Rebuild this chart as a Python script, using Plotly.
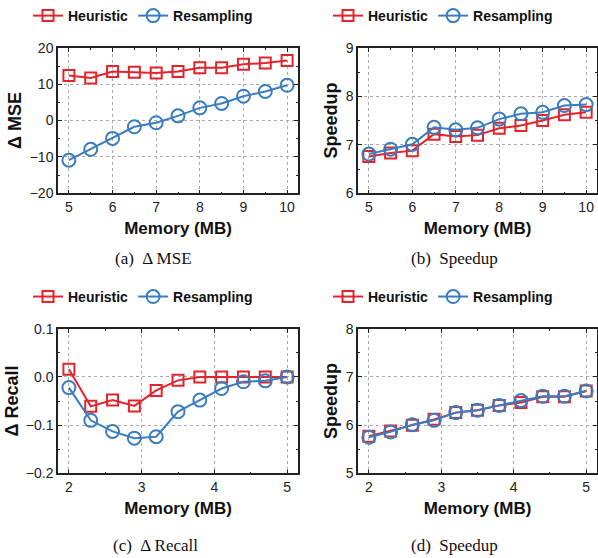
import plotly.graph_objects as go

# ---- data ----
mem_a = [5, 5.5, 6, 6.5, 7, 7.5, 8, 8.5, 9, 9.5, 10]
mse_heur = [12.4, 11.7, 13.5, 13.3, 13.1, 13.5, 14.5, 14.5, 15.5, 15.8, 16.5]
mse_resamp = [-10.9, -7.9, -4.9, -1.7, -0.6, 1.3, 3.5, 4.7, 6.7, 8.0, 9.7]
spd_a_heur = [6.76, 6.83, 6.88, 7.22, 7.17, 7.20, 7.34, 7.40, 7.50, 7.62, 7.67]
spd_a_resamp = [6.81, 6.91, 7.01, 7.36, 7.31, 7.35, 7.53, 7.64, 7.67, 7.81, 7.83]

mem_c = [2, 2.3, 2.6, 2.9, 3.2, 3.5, 3.8, 4.1, 4.4, 4.7, 5]
rec_heur = [0.016, -0.061, -0.048, -0.060, -0.028, -0.007, 0.0, 0.0, 0.0, 0.0, 0.0]
rec_resamp = [-0.022, -0.090, -0.113, -0.127, -0.124, -0.072, -0.048, -0.024, -0.010, -0.008, 0.0]
spd_c_heur = [5.77, 5.88, 6.00, 6.12, 6.26, 6.31, 6.41, 6.47, 6.59, 6.59, 6.71]
spd_c_resamp = [5.75, 5.86, 6.01, 6.10, 6.26, 6.31, 6.41, 6.51, 6.60, 6.60, 6.71]

series_names = ["Heuristic", "Resampling"]
captions = ["(a)  Δ MSE", "(b)  Speedup", "(c)  Δ Recall", "(d)  Speedup"]

RED = "#e3242b"
BLUE = "#3a7dbf"
W, H = 598, 558

fig = go.Figure()

panels = [
    (mem_a, mse_heur, mse_resamp, "", "legend"),
    (mem_a, spd_a_heur, spd_a_resamp, "2", "legend2"),
    (mem_c, rec_heur, rec_resamp, "3", "legend3"),
    (mem_c, spd_c_heur, spd_c_resamp, "4", "legend4"),
]

for xs, h, r, ax, lg in panels:
    fig.add_trace(go.Scatter(
        x=xs, y=h, name=series_names[0], mode="lines+markers",
        xaxis="x" + ax, yaxis="y" + ax, legend=lg,
        line=dict(color=RED, width=2),
        marker=dict(symbol="square-open", size=11, color=RED, line=dict(width=2, color=RED)),
    ))
    fig.add_trace(go.Scatter(
        x=xs, y=r, name=series_names[1], mode="lines+markers",
        xaxis="x" + ax, yaxis="y" + ax, legend=lg,
        line=dict(color=BLUE, width=2),
        marker=dict(symbol="circle-open", size=13, color=BLUE, line=dict(width=2, color=BLUE)),
    ))

def px_x(a, b):
    return [a / W, b / W]

def px_y(top, bottom):
    return [1 - bottom / H, 1 - top / H]

tickfont = dict(family="Liberation Sans, Arial", size=14, color="#222")
xtitlefont = dict(family="Liberation Sans, Arial", size=17, color="#111", weight="bold")
ytitlefont = dict(family="Liberation Sans, Arial", size=18, color="#111", weight="bold")

def xax(domain, rng, anchor, minor):
    return dict(
        domain=domain, range=rng, anchor=anchor, dtick=1, tick0=0, automargin=False,
        showline=True, linecolor="#222", linewidth=1.5, mirror="ticks",
        ticks="inside", ticklen=4, tickwidth=1.2, tickcolor="#222",
        minor=dict(ticks="inside", ticklen=2, dtick=minor, tickcolor="#222", showgrid=False),
        showgrid=True, gridcolor="#aaa", griddash="dot", gridwidth=1,
        zeroline=False, tickfont=tickfont,
        title=dict(text="Memory (MB)", font=xtitlefont, standoff=8),
    )

def yax(domain, rng, anchor, dt, title, fmt=None):
    d = dict(
        domain=domain, range=rng, anchor=anchor, dtick=dt, tick0=0, automargin=False,
        showline=True, linecolor="#222", linewidth=1.5, mirror="ticks",
        ticks="inside", ticklen=4, tickwidth=1.2, tickcolor="#222",
        minor=dict(ticks="inside", ticklen=2, dtick=dt / 2, tickcolor="#222", showgrid=False),
        showgrid=True, gridcolor="#aaa", griddash="dot", gridwidth=1,
        zeroline=False, tickfont=tickfont,
        title=dict(text=title, font=ytitlefont, standoff=3),
    )
    if fmt:
        d["tickformat"] = fmt
    return d

dom_top = px_y(46, 192)
dom_bot = px_y(328, 473)
dom_left = px_x(58, 298)
dom_right = px_x(358, 597)

leg_common = dict(orientation="h", xanchor="left", yanchor="middle",
                  font=dict(family="Liberation Sans, Arial", size=14, color="#111", weight="bold"),
                  bgcolor="rgba(0,0,0,0)", itemwidth=30, tracegroupgap=0)

fig.update_layout(
    template="none",
    width=W, height=H,
    margin=dict(l=0, r=0, t=0, b=0),
    paper_bgcolor="white", plot_bgcolor="white",
    showlegend=True,
    xaxis=xax(dom_left, [4.75, 10.25], "y", 0.5),
    yaxis=yax(dom_top, [-20, 20], "x", 10, "Δ MSE"),
    xaxis2=xax(dom_right, [4.75, 10.25], "y2", 0.5),
    yaxis2=yax(dom_top, [6, 9], "x2", 1, "Speedup"),
    xaxis3=xax(dom_left, [1.85, 5.15], "y3", 0.5),
    yaxis3=yax(dom_bot, [-0.2, 0.1], "x3", 0.1, "Δ Recall", ".1f"),
    xaxis4=xax(dom_right, [1.85, 5.15], "y4", 0.5),
    yaxis4=yax(dom_bot, [5, 8], "x4", 1, "Speedup"),
    legend=dict(x=28 / W, y=1 - 14 / H, **leg_common),
    legend2=dict(x=328 / W, y=1 - 14 / H, **leg_common),
    legend3=dict(x=28 / W, y=1 - 296 / H, **leg_common),
    legend4=dict(x=328 / W, y=1 - 296 / H, **leg_common),
)

cap_pos = [(153, 257), (454, 257), (155, 545), (454, 545)]
for txt, (cx, cy) in zip(captions, cap_pos):
    fig.add_annotation(text=txt, x=cx / W, y=1 - cy / H, xref="paper", yref="paper",
                       showarrow=False, xanchor="center", yanchor="middle",
                       font=dict(family="Liberation Serif, DejaVu Serif", size=17, color="#111"))

fig.write_html("out.html",
               config={"displayModeBar": False},
               post_script="document.body.style.margin='0';document.body.style.overflow='hidden';")
